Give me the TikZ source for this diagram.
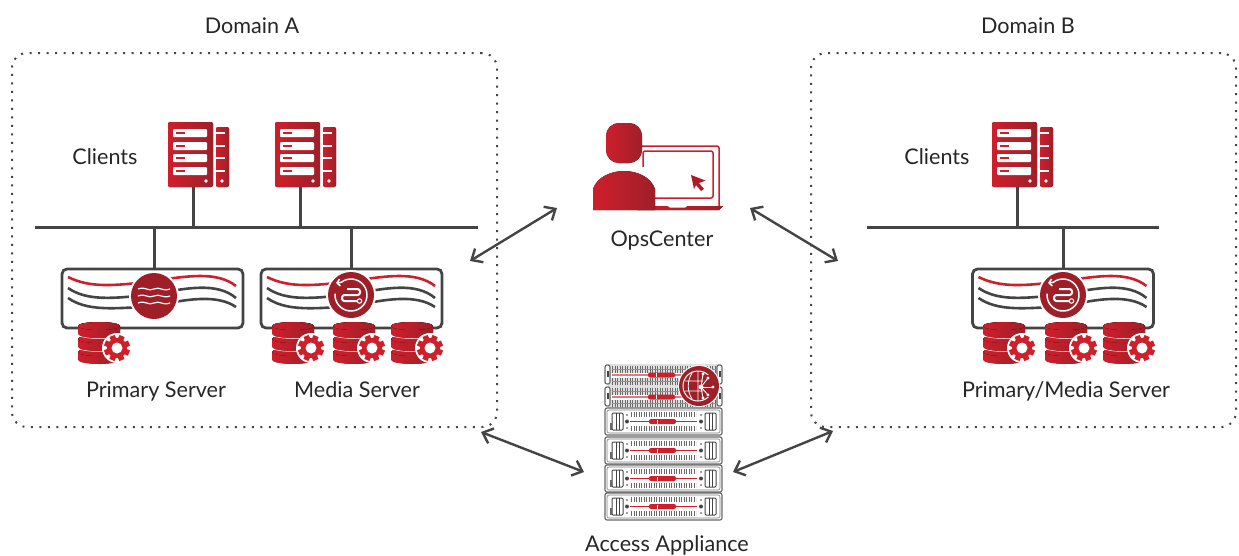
\documentclass[tikz,border=0pt]{standalone}
\usepackage{fontspec}
\setmainfont{Lato}
\usetikzlibrary{arrows.meta}
\definecolor{vred}{HTML}{CE1F2B}
\definecolor{vdark}{HTML}{9F1F28}
\definecolor{vgray}{HTML}{444444}
\tikzset{
pics/clienticon/.style={code={
  \fill[left color=vred, right color=vdark, rounded corners=2pt] (0,0) rectangle (45,65);
  \fill[left color=vred, right color=vdark, rounded corners=2pt] (48,5) rectangle (61,65);
  \foreach \y in {7,20,32,45} {
    \fill[white, rounded corners=1pt] (5,\y) rectangle (39,\y+8);
    \fill[vred] (8,\y+3) rectangle (17,\y+5);
    \fill[white] (48,\y+3) rectangle (57,\y+5);
  }
  \fill[white] (38,59) circle (1.8);
  \fill[white] (54,59) circle (1.8);
  \coordinate (-foot) at (25,65);
}},
pics/dbicon/.style={code={
  \foreach \y in {26,13,0} {
    \fill[left color=vred, right color=vdark] (0,\y+4) arc[start angle=180, end angle=360, x radius=21, y radius=4] -- (42,\y+12) arc[start angle=0, end angle=-180, x radius=21, y radius=-4] -- cycle;
    \fill[left color=vred, right color=vdark] (21,\y+4) ellipse (21 and 4);
    \draw[white, line width=0.5pt] (0,\y+12.5) arc[start angle=180, end angle=360, x radius=21, y radius=-4];
  }
  \fill[white] (39,26) circle (15);
  \foreach \a in {0,45,...,315}
    \fill[vred, shift={(39,26)}, rotate=\a+22] (-2.8,-13) rectangle (2.8,-7);
  \fill[vred] (39,26) circle (10);
  \fill[white] (39,26) circle (5.5);
}},
pics/wavepanel/.style={code={
  \draw[panelline] (0,0) rectangle (181,59);
  \draw[vred, line width=2.6pt] (6,8) .. controls (28,19) and (52,17) .. (92,12) .. controls (125,7) and (155,2) .. (174,17);
  \draw[vgray, line width=2.6pt] (6,19) .. controls (25,32) and (50,30) .. (92,25) .. controls (125,19) and (155,13) .. (174,29);
  \draw[vgray, line width=2.6pt] (6,29) .. controls (25,42) and (50,40) .. (92,37) .. controls (125,30) and (155,25) .. (174,38);
}},
pics/wavesymbol/.style={code={
  \fill[white] (0,0) circle (25);
  \fill[vdark] (0,0) circle (23);
  \foreach \y in {-7,0,7}
    \draw[white, line width=1.2pt] (-16,\y) .. controls (-8,\y-3) and (-6,\y+3) .. (0,\y) .. controls (6,\y-3) and (8,\y+3) .. (16,\y);
}},
pics/loopsymbol/.style={code={
  \fill[white] (0,0) circle (25);
  \fill[vdark] (0,0) circle (23);
  \draw[white, line width=1.5pt] (232:16) arc[start angle=232, end angle=545, radius=16];
  \draw[white, line width=1.5pt, -{Straight Barb[length=3pt,width=7pt]}] (232:16) -- (-15,-12);
  \draw[white, line width=2pt, rounded corners=2.5pt] (-4,-6) -- (9,-6) -- (9,0) -- (-9,0) -- (-9,6) -- (6,6);
  \draw[white, line width=1.1pt] (8.5,6) circle (2.2);
}},
pics/rackunit/.style={code={
  \draw[rackline, fill=white] (0,0) rectangle (117,27);
  \draw[vgray!70, line width=0.6pt, rounded corners=2pt] (2,2) rectangle (115,25);
  \foreach \x in {7,100} {
    \draw[vgray, line width=1pt, rounded corners=1pt] (\x,5) rectangle (\x+11,22);
    \draw[vgray, line width=0.8pt] (\x+4,5) -- (\x+4,22) (\x+7.5,5) -- (\x+7.5,22);
  }
  \fill[vgray!80] (4.5,15) rectangle (7,22);
  \foreach \x in {22,96} {
    \fill[vgray] (\x,13.5) circle (2);
    \fill[vgray] (\x,7) circle (0.9);
    \fill[vgray] (\x,20) circle (0.9);
  }
  \draw[vgray!80, line width=5pt, dash pattern=on 1.2pt off 1.3pt] (26,6.5) -- (91,6.5);
  \draw[vgray!80, line width=5pt, dash pattern=on 1.2pt off 1.3pt] (26,20.5) -- (91,20.5);
  \draw[vred, line width=1.5pt] (25,13.5) -- (92,13.5);
  \fill[vred, rounded corners=2pt] (44,11) rectangle (71,16);
  \fill[white] (52,11.5) rectangle (53,15.5);
}},
pics/rackhead/.style={code={
  \fill[black!12] (3,0) rectangle (114,44);
  \foreach \y in {0,22} {
    \draw[vgray!80, line width=7pt, dash pattern=on 1.2pt off 1.3pt] (7,\y+5.5) -- (111,\y+5.5);
    \draw[vgray!80, line width=7pt, dash pattern=on 1.2pt off 1.3pt] (7,\y+17) -- (111,\y+17);
    \draw[vgray!60, line width=0.6pt] (7,\y+5.5) -- (111,\y+5.5) (7,\y+17) -- (111,\y+17);
    \fill[white] (6,\y+9) rectangle (111,\y+13.5);
    \draw[vred!60, line width=2pt] (7,\y+11) -- (110,\y+11);
    \fill[vred, rounded corners=2pt] (43,\y+8.5) rectangle (70,\y+13.5);
    \fill[white] (51,\y+9) rectangle (52,\y+13);
    \draw[rackline, fill=white] (0,\y+1) rectangle (5,\y+20);
    \draw[rackline, fill=white] (112,\y+1) rectangle (117,\y+20);
    \fill[vgray] (1.5,\y+7) rectangle (3.5,\y+13);
    \fill[vgray] (113.5,\y+7) rectangle (115.5,\y+13);
  }
}},
pics/hubsymbol/.style={code={
  \fill[white] (0,0) circle (21);
  \fill[vdark] (0,0) circle (20);
  \draw[white, line width=1pt] (-1,0) circle (15);
  \draw[white, line width=0.8pt] (-14,-5) -- (4,-5) (-14,5) -- (4,5) (-7,-13) .. controls (-12,-5) and (-12,5) .. (-7,13) (-1,-15) -- (-1,15);
  \fill[vdark] (8,-11) rectangle (17,11);
  \foreach \x/\y in {9/-8,14/1,9/9,4/-12,4/12} {
    \draw[white, line width=0.9pt] (2,1) -- (\x,\y);
    \fill[white] (\x,\y) circle (1.7);
  }
  \fill[white] (2,1) circle (2.4);
}},
pics/opsicon/.style={code={
  \draw[vred, line width=1.5pt, rounded corners=2pt] (36,23) -- (126,23) -- (126,83);
  \draw[vred, line width=1.5pt, rounded corners=2pt] (50,28) rectangle (120,75);
  \fill[left color=vred, right color=vdark] (44,83) -- (130,83) -- (126,87) -- (44,87) -- cycle;
  \fill[white, rounded corners=1pt] (74,81) -- (76,84.5) -- (93,84.5) -- (95,81) -- cycle;
  \fill[vred!85!black] (98,52) -- (112.6,57.6) -- (106,60) -- (111,66) -- (108,68) -- (103,62) -- (101,66) -- cycle;
  \fill[white] (9,44) rectangle (63,60);
  \fill[left color=vred, right color=vdark, rounded corners=13pt] (13,0) rectangle (49,40);
  \fill[left color=vred, right color=vdark] (0,87) -- (0,66) .. controls (4,54) and (18,48) .. (31,48) .. controls (44,48) and (58,54) .. (62,66) -- (62,87) -- cycle;
}}
}
\begin{document}
\begin{tikzpicture}[x=1pt, y=-1pt,
panelline/.style={draw=vgray, line width=2.8pt, rounded corners=5pt},
rackline/.style={draw=vgray!80, line width=1.2pt, rounded corners=2pt},
domainbox/.style={rectangle, draw=vgray, line width=2pt, dash pattern=on 2pt off 6.5pt, rounded corners=15pt, inner sep=0pt},
busline/.style={draw=vgray, line width=3pt},
linkarrow/.style={draw=vgray, line width=2.4pt, <->, >={Straight Barb[length=9pt,width=16pt]}},
labeltext/.style={font=\fontsize{21.6}{26}\selectfont, text=black!85, inner sep=0pt, anchor=base},
]
\useasboundingbox (0,0) rectangle (1239,555);

%Domains
\node[domainbox, minimum width=485pt, minimum height=374pt] (domainA) at (254.5,240) {};
\node[domainbox, minimum width=425pt, minimum height=374pt] (domainB) at (1023.5,240) {};

%Icons
\pic (clientA) at (168,122) {clienticon};
\pic (clientAA) at (275,122) {clienticon};
\pic (clientB) at (992,122) {clienticon};
\pic (panelP) at (62,269) {wavepanel};
\pic (panelM) at (261,269) {wavepanel};
\pic (panelB) at (972.5,269) {wavepanel};
\pic at (154,296) {wavesymbol};
\pic at (351,295) {loopsymbol};
\pic at (1063,295) {loopsymbol};
\foreach \x in {78,272,333,391,983,1045,1103}
  \pic at (\x,322) {dbicon};
\pic at (593,123) {opsicon};
\fill[black!35] (606,490.5) rectangle (721,494.5);
\pic at (605,364) {rackhead};
\foreach \y in {408,437,465,493}
  \pic at (605,\y) {rackunit};
\pic at (699,386) {hubsymbol};

%Bus lines
\coordinate (busAl) at (35,227);
\coordinate (busAr) at (478,227);
\coordinate (busBl) at (867,227);
\coordinate (busBr) at (1159,227);
\coordinate (panelPtop) at (154,269);
\coordinate (panelMtop) at (351,269);
\coordinate (panelBtop) at (1063,269);
\draw[busline] (busAl) -- (busAr);
\draw[busline] (busBl) -- (busBr);
\draw[busline] (clientA-foot) -- (clientA-foot |- busAl);
\draw[busline] (clientAA-foot) -- (clientAA-foot |- busAl);
\draw[busline] (clientB-foot) -- (clientB-foot |- busBl);
\draw[busline] (panelPtop) -- (panelPtop |- busAl);
\draw[busline] (panelMtop) -- (panelMtop |- busAl);
\draw[busline] (panelBtop) -- (panelBtop |- busBl);

%Labels
\node[labeltext] (labelDomainA) at (252,33) {Domain A};
\node[labeltext] (labelDomainB) at (1028,33) {Domain B};
\node[labeltext] (labelClientsA) at (105,164) {Clients};
\node[labeltext] (labelClientsB) at (937,164) {Clients};
\node[labeltext] (labelPrimary) at (156,397) {Primary Server};
\node[labeltext] (labelMedia) at (357,397) {Media Server};
\node[labeltext] (labelPrimaryMedia) at (1066,397) {Primary/Media Server};
\node[labeltext] (labelOps) at (662,246) {OpsCenter};
\node[labeltext] (labelAccess) at (667,551) {Access Appliance};

%Arrows
\coordinate (opsL) at (557,208);
\coordinate (opsR) at (750,208);
\coordinate (accessL) at (584,472);
\coordinate (accessR) at (733,472);
\coordinate (domAr) at (470,261);
\coordinate (domAb) at (481,432);
\coordinate (domBl) at (838,261);
\coordinate (domBb) at (833,431);
\draw[linkarrow] (domAr) -- (opsL);
\draw[linkarrow] (opsR) -- (domBl);
\draw[linkarrow] (domAb) -- (accessL);
\draw[linkarrow] (accessR) -- (domBb);

\end{tikzpicture}
\end{document}
